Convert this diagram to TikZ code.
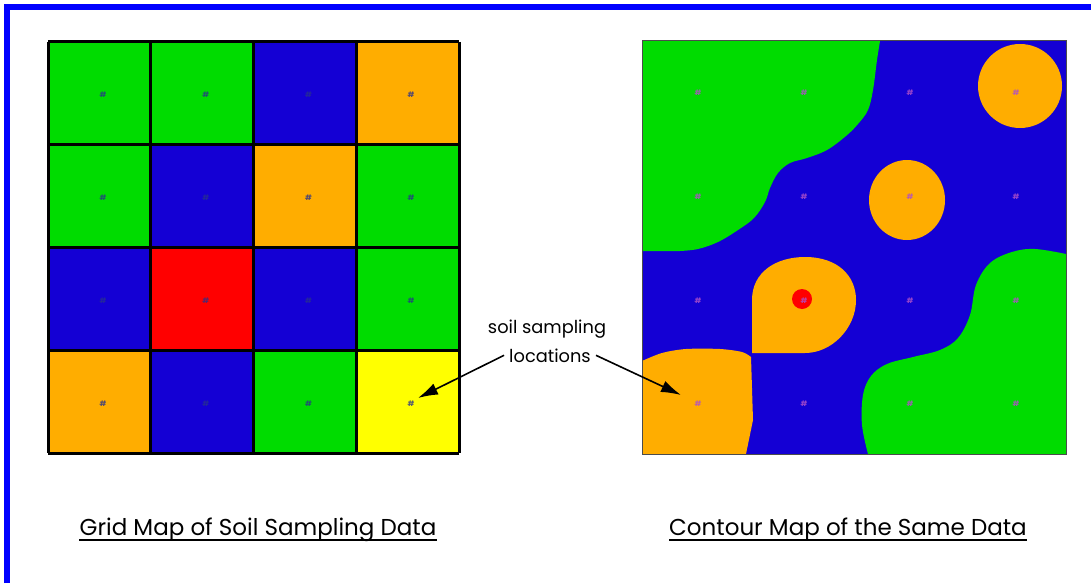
\documentclass[tikz,border=0pt]{standalone}
\usepackage{fontspec}
\setmainfont{Poppins}
\usetikzlibrary{arrows.meta,calc}
\definecolor{framecol}{RGB}{0,0,255}
\definecolor{cgreen}{RGB}{0,220,0}
\definecolor{cblue}{RGB}{20,0,212}
\definecolor{corange}{RGB}{255,173,0}
\definecolor{cred}{RGB}{255,0,0}
\definecolor{cyellow}{RGB}{255,255,0}
\definecolor{gridmark}{RGB}{40,50,140}
\definecolor{mapmark}{RGB}{175,80,200}
\tikzset{
  smark/.style={inner sep=0pt, font=\fontsize{7.5}{7.5}\selectfont\bfseries},
  caption/.style={inner sep=0pt, anchor=base, font=\fontsize{23}{27}\selectfont},
  callout/.style={inner sep=0pt, anchor=base, font=\fontsize{17.8}{20}\selectfont},
  pointer/.style={line width=1.6pt, -{Latex[length=20pt,width=12pt]}},
  uline/.style={line width=1.6pt},
  gridline/.style={line width=3pt, line cap=square}
}
\begin{document}
\begin{tikzpicture}[x=1pt,y=-1pt]
\useasboundingbox (0,0) rectangle (1091,583);
% outer frame (top and left edges)
\draw[framecol, line width=6pt] (7,583) -- (7,7.5) -- (1091,7.5);

% ---- grid map ----
\foreach \r/\c/\col in {
  0/0/cgreen, 0/1/cgreen, 0/2/cblue, 0/3/corange,
  1/0/cgreen, 1/1/cblue, 1/2/corange, 1/3/cgreen,
  2/0/cblue, 2/1/cred, 2/2/cblue, 2/3/cgreen,
  3/0/corange, 3/1/cblue, 3/2/cgreen, 3/3/cyellow}{
  \fill[\col] ({48+102.75*\c},{42+102.75*\r}) rectangle ++(102.75,102.75);
  \node[smark, text=gridmark, opacity=0.8] (g\r\c) at ({103+102.7*\c},{95+102.8*\r}) {\#};
}
\foreach \k in {0,...,4}{
  \draw[gridline] ({48+102.75*\k},42) -- ({48+102.75*\k},453);
  \draw[gridline] (48,{42+102.75*\k}) -- (459,{42+102.75*\k});
}

% ---- contour map ----
\fill[cblue] (642,41) rectangle (1066,454);
% green, upper left
\fill[cgreen] (642,41) -- (880,41) -- plot[smooth, tension=0.6] coordinates {
  (880,41) (877,60) (873,90) (868,110) (858,124) (846,136) (827,150) (807,158)
  (790,163) (778,173) (770,188) (765,202) (754,218) (738,230) (718,242) (698,249) (680,251)}
  -- (642,251) -- cycle;
% green, lower right
\fill[cgreen] (868,454) -- plot[smooth, tension=0.6] coordinates {
  (868,454) (862,425) (863,395) (871,376) (887,364) (913,357) (940,350) (958,338)
  (970,315) (976,285) (990,263) (1012,252) (1035,249) (1066,254)}
  -- (1066,454) -- cycle;
% orange, lower left
\fill[corange] (642,454) -- (642,361) -- plot[smooth, tension=0.5] coordinates {
  (642,361) (662,353) (686,349) (720,349) (742,352) (751,357)}
  -- (753,420) -- (746,454) -- cycle;
% orange drop with the red peak
\fill[corange] (752,353) -- (752,300) .. controls (752,272) and (776,257) .. (805,257)
  .. controls (838,257) and (856,276) .. (856,300)
  .. controls (856,328) and (832,353) .. (805,353) -- cycle;
\fill[cred] (802,299) circle[radius=10];
% orange spots
\fill[corange] (907,200) ellipse[x radius=38, y radius=40];
\fill[corange] (1020,86) ellipse[x radius=42, y radius=42];
\draw[line width=1pt, black!70] (642,41) rectangle (1066,454);
\foreach \r in {0,...,3}{
  \foreach \c in {0,...,3}{
    \node[smark, text=mapmark, opacity=0.85] (m\r\c) at ({698+106*\c},{93+103.7*\r}) {\#};
  }
}

% ---- callout ----
\node[callout] (soil) at (547,333) {soil sampling};
\node[callout] (loc) at (550,362) {locations};
\coordinate (ytip) at (418,398);
\coordinate (otip) at (681,395);
\draw[pointer] ($(loc.west)+(-5,0)$) -- (ytip);
\draw[pointer] ($(loc.east)+(5,0)$) -- (otip);

% ---- captions ----
\node[caption] (capL) at (258,535) {Grid Map of Soil Sampling Data};
\node[caption] (capR) at (848,535) {Contour Map of the Same Data};
\draw[uline] ($(capL.base west)+(0,5)$) -- ($(capL.base east)+(0,5)$);
\draw[uline] ($(capR.base west)+(0,5)$) -- ($(capR.base east)+(0,5)$);
\end{tikzpicture}
\end{document}
